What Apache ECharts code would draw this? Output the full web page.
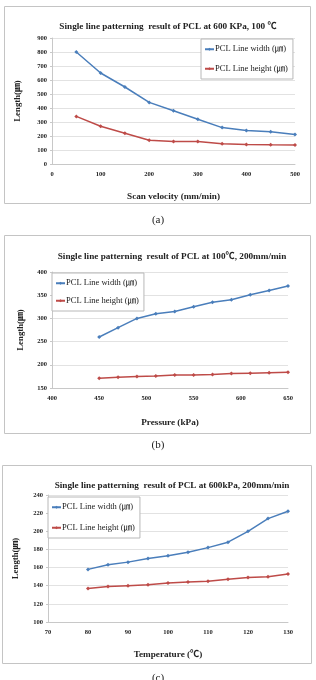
<!DOCTYPE html>
<html>
<head>
<meta charset="utf-8">
<script src="https://cdn.jsdelivr.net/npm/echarts@6/dist/echarts.min.js"></script>
<style>
  html, body { margin: 0; padding: 0; background: #fff; }
  #chart { width: 316px; height: 680px; }
</style>
</head>
<body>
<div id="chart"></div>
<script>
// (a) scan velocity
const velocity = [50, 100, 150, 200, 250, 300, 350, 400, 450, 500];
const widthA = [800, 650, 550, 440, 380, 320, 260, 240, 230, 210];
const heightA = [340, 270, 220, 170, 160, 160, 145, 140, 137, 135];

// (b) pressure
const pressure = [450, 470, 490, 510, 530, 550, 570, 590, 610, 630, 650];
const widthB = [260, 280, 300, 310, 315, 325, 335, 340, 351, 360, 370];
const heightB = [171, 173, 175, 176, 178, 178, 179, 181, 182, 183, 184];

// (c) temperature
const temperature = [80, 85, 90, 95, 100, 105, 110, 115, 120, 125, 130];
const widthC = [158, 163, 166, 170, 173, 177, 182, 188, 200, 214, 222];
const heightC = [137, 139, 140, 141, 143, 144, 145, 147, 149, 150, 153];

const titles = [
  'Single line patterning  result of PCL at 600 KPa, 100 \u2103',
  'Single line patterning  result of PCL at 100\u2103, 200mm/min',
  'Single line patterning  result of PCL at 600kPa, 200mm/min',
];
const xNames = ['Scan velocity (mm/min)', 'Pressure (kPa)', 'Temperature (\u2103)'];
const seriesNames = ['PCL Line width (\u339b)', 'PCL Line height (\u339b)'];

const serif = '"Liberation Serif", "Noto Sans CJK SC", serif';
const blue = '#4a7ebb';
const red = '#be4b48';

const chart = echarts.init(document.getElementById('chart'));

const grids = [
  { left: 52, right: 21, top: 38, height: 126 },
  { left: 52, right: 28, top: 272, height: 116 },
  { left: 48, right: 28, top: 495, height: 127 },
];
const xRanges = [[0, 500, 100], [400, 650, 50], [70, 130, 10]];
const yRanges = [[0, 900, 100], [150, 400, 50], [100, 240, 20]];
const yGaps = [30, 27, 28];
const xGaps = [28, 30, 28];
const titleTops = [17, 247, 476];
const titleCenters = [163, 167, 167];
const legendPos = [
  { left: 201, top: 39, itemGap: 11 },
  { left: 52, top: 273, itemGap: 9 },
  { left: 48, top: 497, itemGap: 12 },
];

const xAxes = xRanges.map((r, i) => ({
  type: 'value',
  gridIndex: i,
  min: r[0],
  max: r[1],
  interval: r[2],
  name: xNames[i],
  nameLocation: 'middle',
  nameGap: xGaps[i],
  nameTextStyle: { fontFamily: serif, fontWeight: 'bold', fontSize: 9.2, color: '#222' },
  axisLine: { show: true, lineStyle: { color: '#c8c8c8', width: 1 } },
  axisTick: { show: false },
  splitLine: { show: false },
  axisLabel: { fontFamily: serif, fontWeight: 'bold', fontSize: 6.5, color: '#222', margin: 7 },
}));

const yAxes = yRanges.map((r, i) => ({
  type: 'value',
  gridIndex: i,
  min: r[0],
  max: r[1],
  interval: r[2],
  name: 'Length(\u339b)',
  nameLocation: 'middle',
  nameGap: yGaps[i],
  nameTextStyle: { fontFamily: serif, fontWeight: 'bold', fontSize: 8.8, color: '#222' },
  axisLine: { show: true, lineStyle: { color: '#c8c8c8', width: 1 } },
  axisTick: { show: true, length: 2, lineStyle: { color: '#c8c8c8' } },
  splitLine: { show: true, lineStyle: { color: '#e2e2e2', width: 1 } },
  axisLabel: { fontFamily: serif, fontWeight: 'bold', fontSize: 6.5, color: '#222', margin: 5 },
}));

const datasets = [
  [velocity, widthA, heightA],
  [pressure, widthB, heightB],
  [temperature, widthC, heightC],
];

const series = [];
datasets.forEach((d, i) => {
  [d[1], d[2]].forEach((vals, k) => {
    series.push({
      name: seriesNames[k],
      type: 'line',
      xAxisIndex: i,
      yAxisIndex: i,
      data: d[0].map((x, j) => [x, vals[j]]),
      symbol: 'diamond',
      symbolSize: 4,
      lineStyle: { width: 1.5, color: k === 0 ? blue : red },
      itemStyle: { color: k === 0 ? blue : red },
      emphasis: { disabled: true },
      animation: false,
    });
  });
});

const borders = [
  [4, 6, 306, 197],
  [4, 235, 306, 198],
  [2, 465, 309, 198],
];

const option = {
  animation: false,
  title: titles.map((t, i) => ({
    text: t,
    left: titleCenters[i],
    top: titleTops[i],
    textAlign: 'center',
    textStyle: { fontFamily: serif, fontWeight: 'bold', fontSize: 9.2, color: '#222' },
  })),
  legend: legendPos.map((p, i) => ({
    data: seriesNames,
    orient: 'vertical',
    left: p.left,
    top: p.top,
    itemGap: p.itemGap,
    itemWidth: 9,
    itemHeight: 4,
    padding: [6, 5, 6, 3],
    borderColor: '#b8b8b8',
    borderWidth: 1,
    backgroundColor: '#fff',
    textStyle: { fontFamily: serif, fontSize: 8.5, color: '#222', padding: [0, 0, 0, -4] },
    selectedMode: false,
  })),
  grid: grids,
  xAxis: xAxes,
  yAxis: yAxes,
  series: series,
  graphic: [
    ...borders.map((b) => ({
      type: 'rect',
      shape: { x: b[0] + 0.5, y: b[1] + 0.5, width: b[2], height: b[3] },
      style: { fill: null, stroke: '#c4c4c4', lineWidth: 1 },
      z: -1,
      silent: true,
    })),
    ...[['(a)', 220], ['(b)', 445], ['(c)', 678]].map((l) => ({
      type: 'text',
      x: 158,
      y: l[1],
      style: {
        text: l[0],
        font: '11px "Liberation Serif", serif',
        fill: '#222',
        textAlign: 'center',
        textVerticalAlign: 'middle',
      },
      silent: true,
    })),
  ],
};

chart.setOption(option);
</script>
</body>
</html>
